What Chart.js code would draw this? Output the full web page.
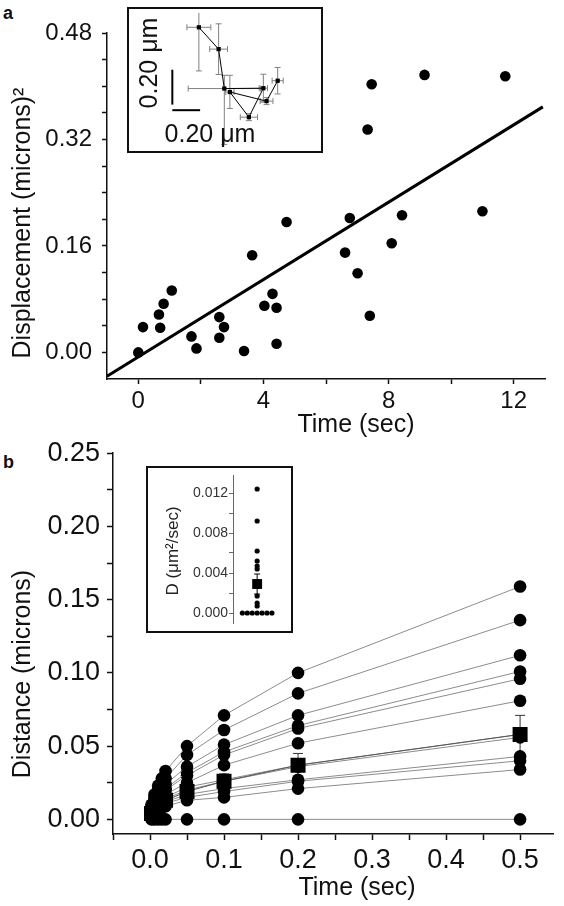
<!DOCTYPE html>
<html>
<head>
<meta charset="utf-8">
<script src="https://cdn.jsdelivr.net/npm/chart.js@4.4.1/dist/chart.umd.min.js"></script>
<style>
body { margin: 0; background: #fff; }
#wrap { position: relative; width: 564px; height: 906px; overflow: hidden; font-family: 'Liberation Sans', Arial, sans-serif; }
canvas { position: absolute; }
.box { position: absolute; border: 2px solid #111; box-sizing: border-box; background: #fff; }
.tag { position: absolute; font-weight: bold; font-size: 18px; line-height: 1; color: #111; }
</style>
</head>
<body>
<div id="wrap">
  <div class="tag" style="left:3px;top:4px">a</div>
  <canvas id="chartA" width="564" height="440" style="left:0;top:0"></canvas>
  <div class="box" style="left:127px;top:7px;width:196px;height:146px"></div>
  <canvas id="insetA" width="192" height="142" style="left:129px;top:9px"></canvas>

  <div class="tag" style="left:3px;top:453px">b</div>
  <canvas id="chartB" width="564" height="476" style="left:0;top:430px"></canvas>
  <div class="box" style="left:146px;top:466px;width:147px;height:167px"></div>
  <canvas id="insetB" width="143" height="185" style="left:148px;top:455px"></canvas>
</div>
<script>
// ---------- panel a: squared displacement vs time ----------
var timeA = [0.0, 0.15, 0.70, 0.66, 0.81, 1.07, 1.70, 1.86, 2.59, 2.74, 2.59, 3.38, 3.64, 4.03, 4.29,
             4.42, 4.42, 4.74, 6.76, 8.43, 11.0, 6.61, 8.10, 7.01, 7.40, 7.46, 9.15, 11.73, 7.33];
var dispA = [0.000, 0.038, 0.037, 0.057, 0.073, 0.093, 0.024, 0.006, 0.053, 0.038, 0.022, 0.002, 0.146, 0.070, 0.088,
             0.067, 0.013, 0.196, 0.202, 0.206, 0.212, 0.150, 0.164, 0.119, 0.055, 0.403, 0.417, 0.415, 0.335];
var fitTime = [-1, 12.93];
var fitDisp = [-0.036, 0.369];
var xTicksA = [0, 2, 4, 6, 8, 10, 12];
var xLabelsA = ['0', '', '4', '', '8', '', '12'];
var yTicksA = [0, 0.04, 0.08, 0.12, 0.16, 0.20, 0.24, 0.28, 0.32, 0.36, 0.40, 0.44, 0.48];
var yLabelsA = ['0.00', '', '', '', '0.16', '', '', '', '0.32', '', '', '', '0.48'];

// inset a: trajectory (microns) with error bars
var trajX = [0.474, 0.616, 0.657, 0.938, 0.834, 0.697, 0.961, 1.041];
var trajY = [0.686, 0.561, 0.335, 0.337, 0.171, 0.315, 0.263, 0.380];
var trajXErr = [0.086, 0.064, 0.26, 0.03, 0.062, 0.03, 0.046, 0.04];
var trajYErrLo = [0.25, 0.145, 0.32, 0.08, 0.02, 0.094, 0.02, 0.076];
var trajYErrHi = [0.25, 0.145, 0.076, 0.08, 0.02, 0.096, 0.02, 0.076];
var barLen = 0.2;

// ---------- panel b: distance vs time ----------
var timeB = [0.002, 0.006, 0.011, 0.016, 0.021, 0.05, 0.1, 0.2, 0.5];
var track1  = [0.010, 0.017, 0.023, 0.028, 0.033, 0.050, 0.071, 0.100, 0.159];
var track2  = [0.009, 0.015, 0.020, 0.024, 0.028, 0.044, 0.061, 0.086, 0.136];
var track3  = [0.008, 0.013, 0.017, 0.020, 0.024, 0.036, 0.051, 0.071, 0.112];
var track4  = [0.007, 0.011, 0.015, 0.018, 0.021, 0.032, 0.046, 0.064, 0.101];
var track5  = [0.006, 0.010, 0.014, 0.017, 0.020, 0.030, 0.044, 0.062, 0.096];
var track6  = [0.005, 0.009, 0.012, 0.015, 0.017, 0.025, 0.037, 0.052, 0.081];
var track7  = [0.004, 0.008, 0.011, 0.013, 0.015, 0.022, 0.027, 0.037, 0.058];
var track8  = [0.004, 0.007, 0.010, 0.012, 0.014, 0.020, 0.026, 0.036, 0.056];
var track9  = [0.003, 0.006, 0.009, 0.011, 0.012, 0.017, 0.021, 0.027, 0.043];
var track10 = [0.003, 0.005, 0.008, 0.010, 0.011, 0.015, 0.019, 0.026, 0.040];
var track11 = [0.002, 0.004, 0.006, 0.008, 0.009, 0.013, 0.015, 0.021, 0.034];
var track12 = [0, 0, 0, 0, 0, 0, 0, 0, 0];
var meanB = [0.004, 0.006, 0.009, 0.011, 0.013, 0.019, 0.026, 0.037, 0.058];
var errB  = [0.001, 0.001, 0.002, 0.002, 0.002, 0.004, 0.005, 0.008, 0.013];
var xTicksB = [-0.05, 0, 0.05, 0.1, 0.15, 0.2, 0.25, 0.3, 0.35, 0.4, 0.45, 0.5];
var xLabelsB = ['', '0.0', '', '0.1', '', '0.2', '', '0.3', '', '0.4', '', '0.5'];
var yTicksB = [0, 0.025, 0.05, 0.075, 0.1, 0.125, 0.15, 0.175, 0.2, 0.225, 0.25];
var yLabelsB = ['0.00', '', '0.05', '', '0.10', '', '0.15', '', '0.20', '', '0.25'];

// inset b: diffusion coefficients
var dValues = [0.0124, 0.0092, 0.0062, 0.0052, 0.0047, 0.0044, 0.0017, 0.0010, 0.0007, 0, 0, 0, 0, 0, 0, 0];
var dJitter = [0, 0, 0, 0, 0, 0, 0, 0, 0, -3, -2, -1, 0, 1, 2, 3];
var dMean = 0.0029;
var dErr = 0.001;
var yTicksD = [0, 0.002, 0.004, 0.006, 0.008, 0.010, 0.012];
var yLabelsD = ['0.000', '', '0.004', '', '0.008', '', '0.012'];

var FONT = "'Liberation Sans', Arial, Helvetica, sans-serif";
Chart.defaults.font.family = FONT;
Chart.defaults.color = '#111';
Chart.defaults.animation = false;
Chart.defaults.plugins.legend.display = false;
Chart.defaults.plugins.tooltip.enabled = false;

function pts(xs, ys) {
    return xs.map(function (x, i) { return { x: x, y: ys[i] }; });
}

// error bars drawn through the chart's own scales
var errorBars = {
    id: 'errorBars',
    beforeDatasetsDraw: function (chart) {
        var ctx = chart.ctx, a = chart.chartArea, sx = chart.scales.x, sy = chart.scales.y;
        ctx.save();
        ctx.beginPath();
        ctx.rect(a.left, a.top, a.width, a.height);
        ctx.clip();
        chart.data.datasets.forEach(function (ds) {
            if (!ds.errYLo && !ds.errX) return;
            ctx.strokeStyle = ds.errColor || '#000';
            ctx.lineWidth = 1;
            var c = ds.errCap || 3;
            ds.data.forEach(function (p, i) {
                var px = sx.getPixelForValue(p.x), py = sy.getPixelForValue(p.y);
                ctx.beginPath();
                if (ds.errYLo) {
                    var y1 = sy.getPixelForValue(p.y - ds.errYLo[i]);
                    var y2 = sy.getPixelForValue(p.y + ds.errYHi[i]);
                    ctx.moveTo(px, y1); ctx.lineTo(px, y2);
                    ctx.moveTo(px - c, y1); ctx.lineTo(px + c, y1);
                    ctx.moveTo(px - c, y2); ctx.lineTo(px + c, y2);
                }
                if (ds.errX && ds.errX[i]) {
                    var x1 = sx.getPixelForValue(p.x - ds.errX[i]);
                    var x2 = sx.getPixelForValue(p.x + ds.errX[i]);
                    ctx.moveTo(x1, py); ctx.lineTo(x2, py);
                    ctx.moveTo(x1, py - c); ctx.lineTo(x1, py + c);
                    ctx.moveTo(x2, py - c); ctx.lineTo(x2, py + c);
                }
                ctx.stroke();
            });
        });
        ctx.restore();
    }
};

// free text (axis titles, scale bar labels)
var textItems = {
    id: 'textItems',
    afterDraw: function (chart, args, opts) {
        var ctx = chart.ctx;
        (opts.items || []).forEach(function (t) {
            ctx.save();
            ctx.font = t.size + 'px ' + FONT;
            ctx.fillStyle = t.color || '#111';
            ctx.textAlign = 'center';
            ctx.textBaseline = 'middle';
            ctx.translate(t.x, t.y);
            if (t.rot) ctx.rotate(-Math.PI / 2);
            ctx.fillText(t.text, 0, 0);
            ctx.restore();
        });
    }
};
Chart.register(errorBars, textItems);

function axis(o) {
    return {
        type: 'linear',
        min: o.min,
        max: o.max,
        border: { display: true, color: o.color || '#111', width: o.bw || 1.5 },
        grid: { drawOnChartArea: false, drawTicks: true, tickLength: o.tl, tickColor: o.color || '#111', tickWidth: o.bw || 1.5 },
        ticks: {
            autoSkip: false, maxRotation: 0, padding: o.pad, color: o.tc || '#111',
            font: { size: o.size },
            callback: function (v, i) { return o.labels[i]; }
        },
        afterBuildTicks: function (s) { s.ticks = o.ticks.map(function (v) { return { value: v }; }); },
        afterFit: function (s) { if (o.w) s.width = o.w; if (o.h) s.height = o.h; }
    };
}

// panel a
new Chart(document.getElementById('chartA'), {
    type: 'scatter',
    data: {
        datasets: [
            { data: pts(timeA, dispA), pointRadius: 5.3, pointBackgroundColor: '#000', pointBorderWidth: 0 },
            { data: pts(fitTime, fitDisp), showLine: true, borderColor: '#000', borderWidth: 3, pointRadius: 0 }
        ]
    },
    options: {
        responsive: false,
        layout: { padding: { left: 0, top: 33, right: 19, bottom: 0 } },
        scales: {
            x: axis({ min: -1, max: 13, ticks: xTicksA, labels: xLabelsA, tl: 5, pad: 3, size: 24, h: 61 }),
            y: axis({ min: -0.04, max: 0.48, ticks: yTicksA, labels: yLabelsA, tl: 5, pad: 10, size: 24, w: 107 })
        },
        plugins: {
            textItems: { items: [
                { text: 'Displacement (microns)\u00B2', x: 23, y: 223, rot: true, size: 25 },
                { text: 'Time (sec)', x: 356, y: 425, size: 25 }
            ] }
        }
    }
});

// inset a
new Chart(document.getElementById('insetA'), {
    type: 'scatter',
    data: {
        datasets: [
            { data: pts(trajX, trajY), showLine: true, borderColor: '#000', borderWidth: 1,
              pointStyle: 'rect', pointRadius: 3, pointBackgroundColor: '#000', pointBorderWidth: 0,
              errX: trajXErr, errYLo: trajYErrLo, errYHi: trajYErrHi, errColor: '#808080', errCap: 3 },
            { data: [{ x: 0.283, y: 0.243 }, { x: 0.283, y: 0.243 + barLen }], showLine: true,
              borderColor: '#000', borderWidth: 2, pointRadius: 0 },
            { data: [{ x: 0.283, y: 0.211 }, { x: 0.283 + barLen, y: 0.211 }], showLine: true,
              borderColor: '#000', borderWidth: 2, pointRadius: 0 }
        ]
    },
    options: {
        responsive: false,
        layout: { padding: 0 },
        scales: {
            x: { type: 'linear', min: 0, max: 1.324, display: false },
            y: { type: 'linear', min: 0, max: 0.768, display: false }
        },
        plugins: {
            textItems: { items: [
                { text: '0.20 \u03BCm', x: 21, y: 54, rot: true, size: 25 },
                { text: '0.20 \u03BCm', x: 81, y: 126, size: 25 }
            ] }
        }
    }
});

// panel b
var tracks = [track1, track2, track3, track4, track5, track6, track7, track8, track9, track10, track11, track12];
var dsB = tracks.map(function (tr) {
    return { data: pts(timeB, tr), showLine: true, borderColor: '#8c8c8c', borderWidth: 1,
             pointRadius: 6.3, pointBackgroundColor: '#000', pointBorderWidth: 0, order: 2 };
});
dsB.push({ data: pts(timeB, meanB), showLine: true, borderColor: '#555', borderWidth: 1,
           pointStyle: 'rect', pointRadius: 10.6, pointBackgroundColor: '#000', pointBorderWidth: 0, order: 1,
           errYLo: errB, errYHi: errB, errColor: '#333', errCap: 5 });

new Chart(document.getElementById('chartB'), {
    type: 'scatter',
    data: { datasets: dsB },
    options: {
        responsive: false,
        layout: { padding: { left: 0, top: 23, right: 4, bottom: 0 } },
        scales: {
            x: axis({ min: -0.05, max: 0.545, ticks: xTicksB, labels: xLabelsB, tl: 6, pad: 4, size: 27, h: 72 }),
            y: axis({ min: -0.01, max: 0.25, ticks: yTicksB, labels: yLabelsB, tl: 6, pad: 7, size: 27, w: 113 })
        },
        plugins: {
            textItems: { items: [
                { text: 'Distance (microns)', x: 23, y: 244, rot: true, size: 25 },
                { text: 'Time (sec)', x: 357, y: 458, size: 25 }
            ] }
        }
    }
});

// inset b
new Chart(document.getElementById('insetB'), {
    type: 'scatter',
    data: {
        datasets: [
            { data: [{ x: 0, y: dMean }], pointStyle: 'rect', pointRadius: 7, pointBackgroundColor: '#000',
              pointBorderWidth: 0, errYLo: [dErr], errYHi: [dErr], errColor: '#000', errCap: 3 },
            { data: pts(dJitter, dValues), pointRadius: 2.6, pointBackgroundColor: '#000', pointBorderWidth: 0 }
        ]
    },
    options: {
        responsive: false,
        layout: { padding: { left: 0, top: 20, right: 1, bottom: 17 } },
        scales: {
            x: { type: 'linear', min: -4.9, max: 5.45, display: false },
            y: axis({ min: -0.001, max: 0.0138, ticks: yTicksD, labels: yLabelsD, tl: 4, pad: 1, size: 14,
                      w: 85, color: '#666', bw: 1, tc: '#333' })
        },
        plugins: {
            textItems: { items: [
                { text: 'D (\u03BCm\u00B2/sec)', x: 25, y: 96, rot: true, size: 17, color: '#222' }
            ] }
        }
    }
});
</script>
</body>
</html>
